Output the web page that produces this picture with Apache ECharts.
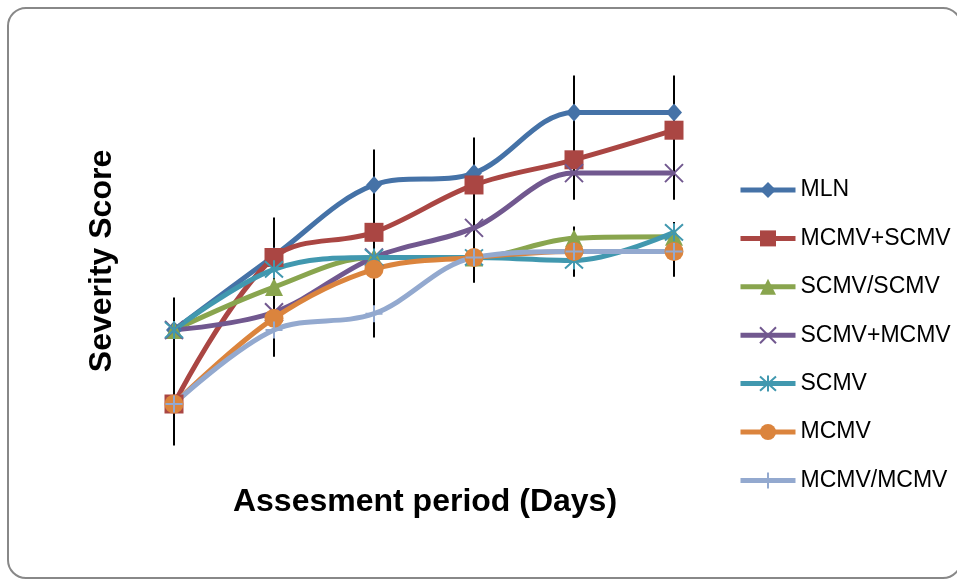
<!DOCTYPE html>
<html>
<head>
<meta charset="utf-8">
<script src="https://cdn.jsdelivr.net/npm/echarts@6/dist/echarts.min.js"></script>
<style>
html,body{margin:0;padding:0;background:#fff;}
#c{width:957px;height:579px;}
</style>
</head>
<body>
<div id="c"></div>
<script>
// Assessment points (no tick labels shown in the original)
const categories = ['1', '2', '3', '4', '5', '6'];

const seriesNames = ['MLN', 'MCMV+SCMV', 'SCMV/SCMV', 'SCMV+MCMV', 'SCMV', 'MCMV', 'MCMV/MCMV'];
const MLN        = [1.50, 2.00, 2.48, 2.56, 2.97, 2.97];
const MCMV_SCMV  = [1.00, 1.99, 2.16, 2.48, 2.65, 2.85];
const SCMV_SCMV  = [1.50, 1.79, 1.99, 1.99, 2.12, 2.13];
const SCMV_MCMV  = [1.50, 1.62, 1.99, 2.19, 2.56, 2.56];
const SCMV       = [1.50, 1.91, 1.99, 1.99, 1.97, 2.16];
const MCMV       = [1.00, 1.58, 1.91, 1.99, 2.03, 2.03];
const MCMV_MCMV  = [1.00, 1.50, 1.61, 1.99, 2.03, 2.03];
const seriesValues = [MLN, MCMV_SCMV, SCMV_SCMV, SCMV_MCMV, SCMV, MCMV, MCMV_MCMV];

// Error bar segments: [category index, low, high]
const errorBars = [
  [0, 0.72, 1.72],
  [1, 1.32, 2.26],
  [2, 1.45, 2.72],
  [3, 1.82, 2.80],
  [4, 2.38, 3.22],
  [4, 1.86, 2.20],
  [5, 2.38, 3.22],
  [5, 1.86, 2.23]
];

const colors = ['#4572A7', '#AA4643', '#89A54E', '#71588F', '#4198AF', '#DB843D', '#93A9CF'];
const symbols = [
  'diamond', 'rect', 'triangle',
  'path://M1,1L19,19M19,1L1,19',
  'path://M10,0L10,20M1,1L19,19M19,1L1,19',
  'circle',
  'path://M10,0L10,20M0,10L20,10'
];
const symbolSizes = [[16, 18], 19, 18, 18, 18, 19, 17];
const stroked = [false, false, false, true, true, false, true];

const chart = echarts.init(document.getElementById('c'));

const lineSeries = seriesNames.map((name, i) => ({
  name: name,
  type: 'line',
  data: seriesValues[i],
  smooth: 0.35,
  symbol: symbols[i],
  symbolSize: symbolSizes[i],
  showSymbol: true,
  z: 3,
  lineStyle: { color: colors[i], width: 5 },
  itemStyle: stroked[i]
    ? { color: colors[i], borderColor: colors[i], borderWidth: 2 }
    : { color: colors[i] },
  emphasis: { disabled: true }
}));

const errSeries = {
  name: 'err',
  type: 'custom',
  z: 1,
  silent: true,
  data: errorBars,
  renderItem: function (params, api) {
    const p1 = api.coord([api.value(0), api.value(1)]);
    const p2 = api.coord([api.value(0), api.value(2)]);
    return {
      type: 'line',
      shape: { x1: p1[0], y1: p1[1], x2: p2[0], y2: p2[1] },
      style: { stroke: '#000', lineWidth: 2 }
    };
  }
};

chart.setOption({
  animation: false,
  backgroundColor: '#fff',
  grid: { left: 124, right: 233, top: 34, bottom: 101 },
  xAxis: {
    type: 'category',
    data: categories,
    boundaryGap: true,
    show: false
  },
  yAxis: {
    type: 'value',
    min: 0.5,
    max: 3.5,
    show: false
  },
  legend: {
    data: seriesNames,
    orient: 'vertical',
    left: 733,
    top: 172,
    itemWidth: 55,
    itemHeight: 20,
    itemGap: 22.4,
    lineStyle: { width: 5 },
    textStyle: { fontFamily: 'Liberation Sans', fontSize: 23, color: '#000', lineHeight: 26 },
    selectedMode: false
  },
  graphic: [
    {
      type: 'rect',
      shape: { x: 8, y: 8, width: 953, height: 570, r: 18 },
      style: { fill: 'none', stroke: '#888', lineWidth: 2 },
      silent: true
    },
    {
      type: 'text',
      x: 102, y: 261,
      rotation: Math.PI / 2,
      style: {
        text: 'Severity Score',
        font: 'bold 32px "Liberation Sans"',
        fill: '#000',
        align: 'center',
        verticalAlign: 'middle'
      }
    },
    {
      type: 'text',
      x: 425, y: 502,
      style: {
        text: 'Assesment period (Days)',
        font: 'bold 32px "Liberation Sans"',
        fill: '#000',
        align: 'center',
        verticalAlign: 'middle'
      }
    }
  ],
  series: [errSeries].concat(lineSeries)
});
</script>
</body>
</html>
